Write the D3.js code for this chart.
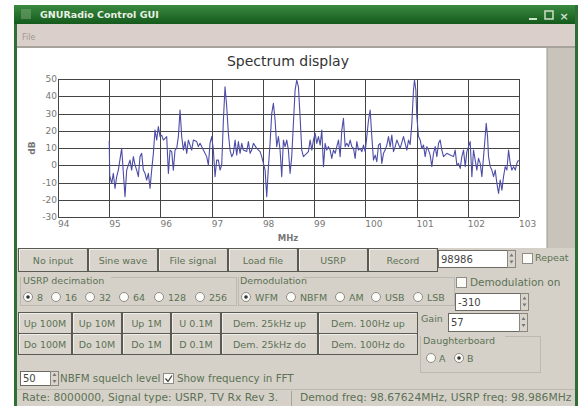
<!DOCTYPE html>
<html>
<head>
<meta charset="utf-8">
<script src="https://cdn.jsdelivr.net/npm/d3@7"></script>
<style>
  body { margin: 0; background: #fff; }
  svg { display: block; }
  text { font-family: "DejaVu Sans", sans-serif; }
</style>
</head>
<body>
<svg width="580" height="406"></svg>
<script>
// Spectrum trace (MHz, dB)
var freqMHz = [95.000,95.010,95.048,95.080,95.113,95.146,95.178,95.243,95.308,95.341,95.373,95.406,95.438,95.471,95.504,95.536,95.569,95.601,95.634,95.666,95.699,95.731,95.764,95.797,95.829,95.862,95.894,95.927,95.959,95.992,
  96.024,96.057,96.122,96.155,96.187,96.220,96.252,96.285,96.317,96.350,96.383,96.415,96.448,96.480,96.513,96.545,96.578,96.610,96.643,96.708,96.740,96.773,96.838,96.903,96.936,96.968,
  97.001,97.033,97.066,97.098,97.131,97.164,97.196,97.229,97.261,97.294,97.326,97.359,97.391,97.424,97.457,97.489,97.522,97.554,97.587,97.619,97.684,97.717,97.750,97.782,97.815,97.880,97.945,97.977,
  98.010,98.043,98.075,98.108,98.140,98.173,98.205,98.238,98.270,98.303,98.336,98.368,98.401,98.433,98.466,98.498,98.531,98.563,98.596,98.629,98.661,98.694,98.726,98.759,98.791,98.856,98.889,98.922,98.955,98.987,
  99.020,99.052,99.085,99.118,99.150,99.183,99.215,99.248,99.280,99.313,99.345,99.378,99.411,99.443,99.476,99.508,99.541,99.573,99.606,99.638,99.671,99.704,99.736,99.769,99.801,99.834,99.866,99.899,99.932,99.964,99.997,
  100.029,100.062,100.094,100.127,100.159,100.192,100.224,100.257,100.290,100.322,100.355,100.387,100.420,100.452,100.485,100.517,100.550,100.583,100.615,100.680,100.745,100.810,100.843,100.875,100.908,100.940,100.960,100.986,
  101.006,101.038,101.071,101.103,101.136,101.168,101.201,101.233,101.266,101.298,101.331,101.364,101.396,101.429,101.461,101.494,101.526,101.591,101.657,101.722,101.754,101.787,101.819,101.852,101.884,101.917,101.950,101.982,
  102.015,102.047,102.080,102.112,102.145,102.177,102.210,102.243,102.275,102.308,102.340,102.360,102.386,102.405,102.438,102.470,102.503,102.536,102.568,102.601,102.633,102.666,102.698,102.731,102.764,102.796,102.829,102.861,102.894,102.927,102.959,102.990];
var levelDb = [14,-6,-10.5,-4.7,-13.4,-6.6,-2.8,9.8,-18.2,-2.8,0.1,3.0,-2.8,5.0,0.1,-2.8,-6.6,5.0,6.9,-2.8,-4.7,-8.6,-4.7,-13.4,-2.8,6.9,20.4,14.6,22.4,16.6,
  17.5,14.6,16.6,-4.7,8.8,7.9,-2.8,8.8,9.8,16.6,32.0,16.6,8.8,13.7,6.9,14.6,11.7,8.8,14.6,13.7,10.8,12.7,8.8,5.0,0.1,12.7,
  16.6,8.8,-6.6,3.0,3.0,-2.8,0.1,26.2,45.5,33.9,18.5,8.8,5.0,6.9,14.6,5.9,13.7,6.9,12.7,8.8,7.9,13.7,6.9,8.8,12.7,9.8,7.9,5.0,
  1.1,-2.8,-18.2,-0.8,12.7,30.1,35.9,26.2,10.8,16.6,8.8,-6.6,14.6,10.8,14.6,8.8,-4.7,5.0,24.3,43.6,49.4,45.5,28.1,8.8,5.0,6.9,7.9,14.6,8.8,14.6,
  18.5,12.7,16.6,11.7,20.4,-0.8,12.7,8.8,10.8,8.8,4.0,8.8,6.9,10.8,14.6,5.0,20.4,27.2,10.8,12.7,10.8,14.6,10.8,9.8,4.0,13.7,8.8,9.8,7.9,11.7,7.9,
  16.6,26.2,32.0,16.6,3.0,5.9,2.1,11.7,12.7,1.1,6.9,8.8,11.7,16.6,10.8,17.5,7.9,10.8,14.6,9.8,16.6,8.8,14.6,12.0,24.3,43.6,49.4,43.6,
  28.1,16.6,14.6,9.8,11.7,5.0,10.8,8.8,5.9,-0.8,6.9,10.8,5.0,12.7,14.6,8.8,5.0,6.9,5.9,5.0,8.8,0.1,1.1,-1.8,5.0,8.8,-0.8,7.9,
  10.8,13.7,-6.6,8.8,3.0,-2.8,4.0,1.1,-6.6,5.0,16.6,24.3,16.6,5.0,-0.8,-2.8,-6.6,-2.8,-10.5,-16.3,-8.6,-14.4,-6.6,-0.8,-2.8,8.8,1.1,-2.8,-0.8,-2.8,1.1,3];

var xTicks = [94, 95, 96, 97, 98, 99, 100, 101, 102, 103];
var yTicks = [-30, -20, -10, 0, 10, 20, 30, 40, 50];

// GUI labels
var sourceButtons = ["No input", "Sine wave", "File signal", "Load file", "USRP", "Record"];
var decimations = ["8", "16", "32", "64", "128", "256"];
var demodModes = ["WFM", "NBFM", "AM", "USB", "LSB"];
var tuneUp = ["Up 100M", "Up 10M", "Up 1M", "U 0.1M", "Dem. 25kHz up", "Dem. 100Hz up"];
var tuneDown = ["Do 100M", "Do 10M", "Do 1M", "D 0.1M", "Dem. 25kHz do", "Dem. 100Hz do"];

var svg = d3.select("svg");
var labelColor = "#5c7155";

// ---- window frame ----
var defs = svg.append("defs");
var grad = defs.append("linearGradient").attr("id", "tb").attr("x1", 0).attr("x2", 0).attr("y1", 0).attr("y2", 1);
grad.append("stop").attr("offset", "0%").attr("stop-color", "#3a8a40");
grad.append("stop").attr("offset", "100%").attr("stop-color", "#145a1c");

svg.append("rect").attr("x", 14).attr("y", 5).attr("width", 564).attr("height", 401).attr("fill", "#d5d1c8");
svg.append("rect").attr("x", 14).attr("y", 5).attr("width", 564).attr("height", 19).attr("fill", "url(#tb)");
svg.append("text").attr("x", 40).attr("y", 18).attr("font-size", 9.5).attr("font-weight", "bold")
  .attr("fill", "#e8f0e4").text("GNURadio Control GUI");
svg.append("rect").attr("x", 21).attr("y", 9).attr("width", 10).attr("height", 10).attr("fill", "#6fa06c").attr("opacity", 0.6);
// title bar buttons
svg.append("rect").attr("x", 529).attr("y", 18).attr("width", 8).attr("height", 2).attr("fill", "#cfe0cc");
svg.append("rect").attr("x", 545).attr("y", 11).attr("width", 8).attr("height", 8).attr("fill", "none").attr("stroke", "#cfe0cc").attr("stroke-width", 1.5);
svg.append("text").attr("x", 564).attr("y", 20).attr("text-anchor", "middle").attr("font-size", 11).attr("font-weight", "bold").attr("fill", "#cfe0cc").text("×");

// menu bar
svg.append("rect").attr("x", 17).attr("y", 24).attr("width", 558).attr("height", 23).attr("fill", "#dbcfcc");
svg.append("line").attr("x1", 17).attr("x2", 575).attr("y1", 47).attr("y2", 47).attr("stroke", "#77746e");
svg.append("text").attr("x", 22).attr("y", 40).attr("font-size", 8).attr("fill", "#9c9a8e").text("File");

// side borders
svg.append("rect").attr("x", 14).attr("y", 24).attr("width", 3).attr("height", 382).attr("fill", "#2f6f35");
svg.append("rect").attr("x", 575).attr("y", 5).attr("width", 3).attr("height", 401).attr("fill", "#2f6f35");

// plot panel
svg.append("rect").attr("x", 17).attr("y", 48).attr("width", 530).attr("height", 200).attr("fill", "#ffffff");
svg.append("rect").attr("x", 547).attr("y", 48).attr("width", 28).attr("height", 200).attr("fill", "#c8c4bc");
svg.append("line").attr("x1", 547).attr("x2", 547).attr("y1", 48).attr("y2", 248).attr("stroke", "#9a968e");

// ---- spectrum chart ----
var x = d3.scaleLinear().domain([94, 103]).range([58, 519]);
var y = d3.scaleLinear().domain([-30, 50]).range([217, 79]);

var grid = svg.append("g").attr("stroke", "#454545").attr("stroke-width", 1);
grid.selectAll("line.v").data(xTicks).enter().append("line")
  .attr("x1", function(d){ return Math.round(x(d)) + 0.5; })
  .attr("x2", function(d){ return Math.round(x(d)) + 0.5; })
  .attr("y1", y(50)).attr("y2", y(-30));
grid.selectAll("line.h").data(yTicks).enter().append("line")
  .attr("x1", x(94)).attr("x2", x(103))
  .attr("y1", function(d){ return Math.round(y(d)) + 0.5; })
  .attr("y2", function(d){ return Math.round(y(d)) + 0.5; });

svg.append("g").selectAll("text").data(xTicks).enter().append("text")
  .attr("x", function(d){ return x(d); }).attr("y", 227)
  .attr("font-size", 9).attr("fill", "#777").text(function(d){ return d; });
svg.append("g").selectAll("text").data(yTicks).enter().append("text")
  .attr("x", 57).attr("y", function(d){ return y(d) + 3; })
  .attr("text-anchor", "end").attr("font-size", 9).attr("fill", "#777").text(function(d){ return d; });

svg.append("text").attr("x", 288).attr("y", 66).attr("text-anchor", "middle")
  .attr("font-size", 14).attr("fill", "#333").text("Spectrum display");
svg.append("text").attr("x", 288).attr("y", 241).attr("text-anchor", "middle")
  .attr("font-size", 8.5).attr("font-weight", "bold").attr("fill", "#777").text("MHz");
svg.append("text").attr("transform", "translate(35,148) rotate(-90)").attr("text-anchor", "middle")
  .attr("font-size", 9).attr("font-weight", "bold").attr("fill", "#777").text("dB");

var trace = d3.line()
  .x(function(d, i){ return x(freqMHz[i]); })
  .y(function(d){ return y(d); });
svg.append("path").datum(levelDb).attr("d", trace)
  .attr("fill", "none").attr("stroke", "#4d4da8").attr("stroke-width", 1.1).attr("stroke-linejoin", "round");

// ---- widget helpers ----
function button(x0, y0, w, h, label) {
  var g = svg.append("g");
  g.append("rect").attr("x", x0 + 0.5).attr("y", y0 + 0.5).attr("width", w - 1).attr("height", h - 1)
    .attr("fill", "#d9d5cd").attr("stroke", "#5a5a55");
  g.append("path").attr("d", "M" + (x0 + 1.5) + "," + (y0 + h - 2) + "V" + (y0 + 1.5) + "H" + (x0 + w - 2))
    .attr("fill", "none").attr("stroke", "#f2efe9");
  g.append("text").attr("x", x0 + w / 2).attr("y", y0 + h / 2 + 3.5).attr("text-anchor", "middle")
    .attr("font-size", 9.5).attr("fill", labelColor).text(label);
}
function field(x0, y0, w, h, val) {
  svg.append("rect").attr("x", x0 + 0.5).attr("y", y0 + 0.5).attr("width", w).attr("height", h)
    .attr("fill", "#fff").attr("stroke", "#6d6a64");
  svg.append("text").attr("x", x0 + 3).attr("y", y0 + h / 2 + 4).attr("font-size", 10).attr("fill", "#444").text(val);
  svg.append("rect").attr("x", x0 + w + 0.5).attr("y", y0 + 0.5).attr("width", 8).attr("height", h)
    .attr("fill", "#d9d5cd").attr("stroke", "#8a877f");
  svg.append("path").attr("d", "M" + (x0 + w + 2.5) + "," + (y0 + h / 2 - 2) + "l2,-3l2,3z M" + (x0 + w + 2.5) + "," + (y0 + h / 2 + 2) + "l2,3l2,-3z")
    .attr("fill", "#777");
}
function radio(cx, cy, on) {
  svg.append("circle").attr("cx", cx).attr("cy", cy).attr("r", 4.5).attr("fill", "#fbfbf8").attr("stroke", "#8f8c85");
  if (on) svg.append("circle").attr("cx", cx).attr("cy", cy).attr("r", 1.8).attr("fill", "#333");
}
function checkbox(x0, y0, on) {
  svg.append("rect").attr("x", x0 + 0.5).attr("y", y0 + 0.5).attr("width", 10).attr("height", 10)
    .attr("fill", "#fbfbf8").attr("stroke", "#8f8c85");
  if (on) svg.append("path").attr("d", "M" + (x0 + 2.5) + "," + (y0 + 5.5) + "l2.5,3l4,-6")
    .attr("fill", "none").attr("stroke", "#444").attr("stroke-width", 1.3);
}
function label(x0, y0, t, size) {
  svg.append("text").attr("x", x0).attr("y", y0).attr("font-size", size || 9.5).attr("fill", labelColor).text(t);
}
function frame(x0, y0, w, h) {
  svg.append("rect").attr("x", x0 + 0.5).attr("y", y0 + 0.5).attr("width", w).attr("height", h)
    .attr("fill", "none").attr("stroke", "#bdb9b1");
}

// ---- controls ----
var srcX = [18, 88, 158, 228, 298, 368, 438];
sourceButtons.forEach(function(t, i){ button(srcX[i], 248, srcX[i + 1] - srcX[i], 24, t); });
field(438, 250, 69, 17, "98986");
checkbox(522, 253, false);
label(535, 261, "Repeat", 9.5);

frame(20, 277, 216, 28);
frame(238, 277, 216, 28);
svg.append("rect").attr("x", 21).attr("y", 276).attr("width", 90).attr("height", 8).attr("fill", "#d5d1c8");
svg.append("rect").attr("x", 239).attr("y", 276).attr("width", 64).attr("height", 8).attr("fill", "#d5d1c8");
label(23, 284, "USRP decimation");
label(240, 284, "Demodulation");

var decX = [28, 56, 90, 124, 159, 200];
decimations.forEach(function(t, i){ radio(decX[i], 297, i === 0); label(decX[i] + 9, 301, t); });
var demX = [246, 291, 340, 376, 418];
demodModes.forEach(function(t, i){ radio(demX[i], 297, i === 0); label(demX[i] + 9, 301, t); });

checkbox(456, 277, false);
label(470, 286, "Demodulation on", 10.5);
field(455, 293, 65, 17, "-310");

var tuneX = [18, 72, 122, 171, 221, 318, 418];
tuneUp.forEach(function(t, i){ button(tuneX[i], 312, tuneX[i + 1] - tuneX[i], 22, t); });
tuneDown.forEach(function(t, i){ button(tuneX[i], 333, tuneX[i + 1] - tuneX[i], 22, t); });

label(421, 322, "Gain");
field(448, 313, 71, 18, "57");
frame(420, 336, 120, 36);
svg.append("rect").attr("x", 421).attr("y", 335).attr("width", 84).attr("height", 8).attr("fill", "#d5d1c8");
label(423, 344, "Daughterboard");
radio(431, 358, false); label(439, 362, "A");
radio(459, 358, true); label(467, 362, "B");

field(20, 371, 30, 14, "50");
label(60, 382, "NBFM squelch level", 10.3);
checkbox(163, 373, true);
label(177, 382, "Show frequency in FFT", 10.3);

// status bar
svg.append("line").attr("x1", 17).attr("x2", 575).attr("y1", 389.5).attr("y2", 389.5).attr("stroke", "#bdb9b1");
svg.append("line").attr("x1", 291.5).attr("x2", 291.5).attr("y1", 391).attr("y2", 406).attr("stroke", "#a8a49c");
label(22, 401, "Rate: 8000000, Signal type: USRP, TV Rx Rev 3.", 10.7);
label(300, 401, "Demod freq: 98.67624MHz, USRP freq: 98.986MHz", 10.7);
</script>
</body>
</html>
